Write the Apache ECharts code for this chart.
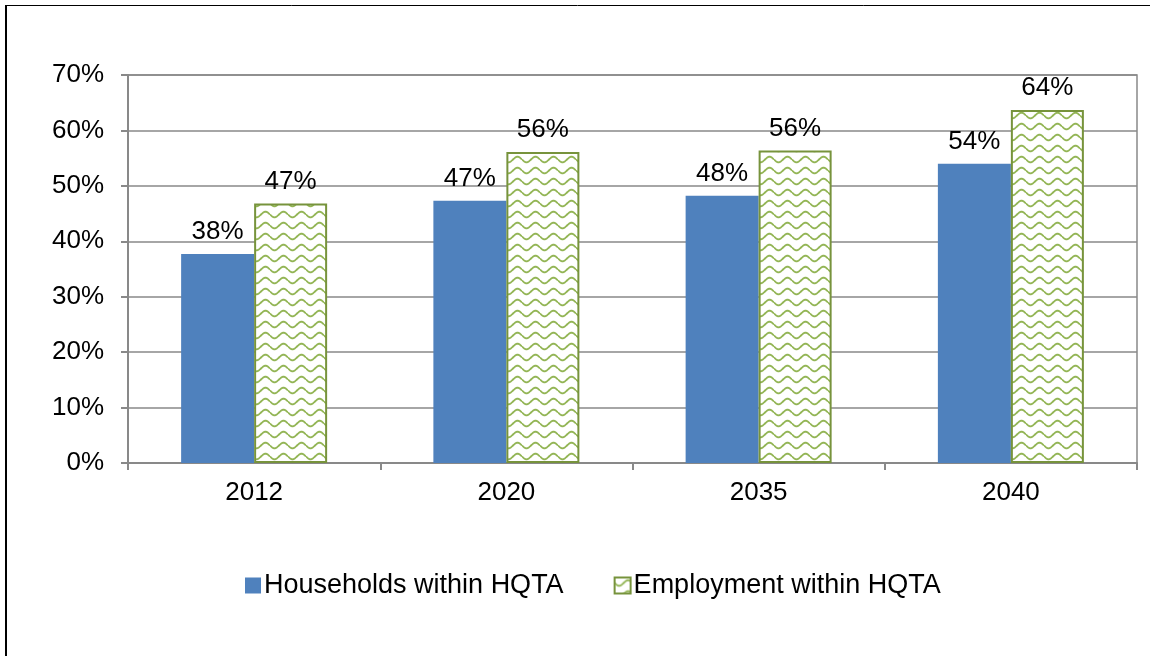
<!DOCTYPE html>
<html>
<head>
<meta charset="utf-8">
<script src="https://cdn.jsdelivr.net/npm/echarts@6/dist/echarts.min.js"></script>
<style>
  html, body { margin: 0; padding: 0; background: #fff; }
  #chart { width: 1150px; height: 656px; }
</style>
</head>
<body>
<div id="chart"></div>
<script>
// Share of households and jobs within High Quality Transit Areas
const years = ['2012', '2020', '2035', '2040'];
const households = [37.7, 47.3, 48.2, 54.0];
const employment = [46.8, 56.1, 56.4, 63.7];
const seriesNames = ['Households within HQTA', 'Employment within HQTA'];
const yTicks = [0, 10, 20, 30, 40, 50, 60, 70];

// Wavy-line fill tile for the employment bars
function waveTile() {
  const w = 18, h = 11;
  const c = document.createElement('canvas');
  c.width = w; c.height = h;
  const ctx = c.getContext('2d');
  ctx.fillStyle = '#ffffff';
  ctx.fillRect(0, 0, w, h);
  ctx.strokeStyle = '#93b555';
  ctx.lineWidth = 1.8;
  ctx.beginPath();
  for (let x = 0; x <= w; x += 0.5) {
    const y = h / 2 + 2.8 * Math.sin((x / w) * Math.PI * 2);
    if (x === 0) ctx.moveTo(x, y); else ctx.lineTo(x, y);
  }
  ctx.stroke();
  return c;
}

const chart = echarts.init(document.getElementById('chart'), null, { renderer: 'canvas' });
const font = 'Liberation Sans, Arial, sans-serif';
const fs = 26;

chart.setOption({
  animation: false,
  backgroundColor: '#ffffff',
  textStyle: { fontFamily: font },
  graphic: [
    { type: 'line', shape: { x1: 6, y1: 5, x2: 6, y2: 656 }, style: { stroke: '#000', lineWidth: 2 } },
    { type: 'line', shape: { x1: 5, y1: 5.5, x2: 1150, y2: 5.5 }, style: { stroke: '#000', lineWidth: 1 } }
  ],
  grid: {
    left: 128, right: 13, top: 75, bottom: 193,
    show: true, borderColor: '#898989', borderWidth: 1.5
  },
  legend: {
    left: 240, top: 567,
    itemWidth: 16, itemHeight: 16, itemGap: 50,
    icon: 'rect',
    textStyle: { fontSize: 27, color: '#000', fontFamily: font, padding: [0, 0, 0, -2] },
    data: seriesNames
  },
  xAxis: {
    type: 'category',
    data: years,
    axisLine: { lineStyle: { color: '#898989', width: 2 } },
    axisTick: { show: true, length: 7, alignWithLabel: false, lineStyle: { color: '#898989', width: 2 } },
    axisLabel: { fontSize: fs, color: '#000', margin: 17, fontFamily: font }
  },
  yAxis: {
    type: 'value',
    min: yTicks[0], max: yTicks[yTicks.length - 1], interval: 10,
    axisLine: { show: true, lineStyle: { color: '#898989', width: 2 } },
    axisTick: { show: true, length: 7, lineStyle: { color: '#898989', width: 2 } },
    splitLine: { lineStyle: { color: '#898989', width: 1.5 } },
    axisLabel: { fontSize: fs, color: '#000', margin: 24, fontFamily: font, formatter: v => v + '%' }
  },
  series: [
    {
      name: seriesNames[0],
      type: 'bar',
      data: households,
      barWidth: 73,
      barGap: '0%',
      barCategoryGap: '42%',
      itemStyle: { color: '#4f81bd' },
      label: {
        show: true, position: 'top', distance: 9,
        fontSize: fs, color: '#000', fontFamily: font,
        formatter: p => Math.round(p.value) + '%'
      }
    },
    {
      name: seriesNames[1],
      type: 'bar',
      data: employment,
      barWidth: 73,
      barGap: '0%',
      itemStyle: {
        color: { image: waveTile(), repeat: 'repeat' },
        borderColor: '#77933c', borderWidth: 2
      },
      label: {
        show: true, position: 'top', distance: 9,
        fontSize: fs, color: '#000', fontFamily: font,
        formatter: p => Math.round(p.value) + '%'
      }
    }
  ]
});
</script>
</body>
</html>
